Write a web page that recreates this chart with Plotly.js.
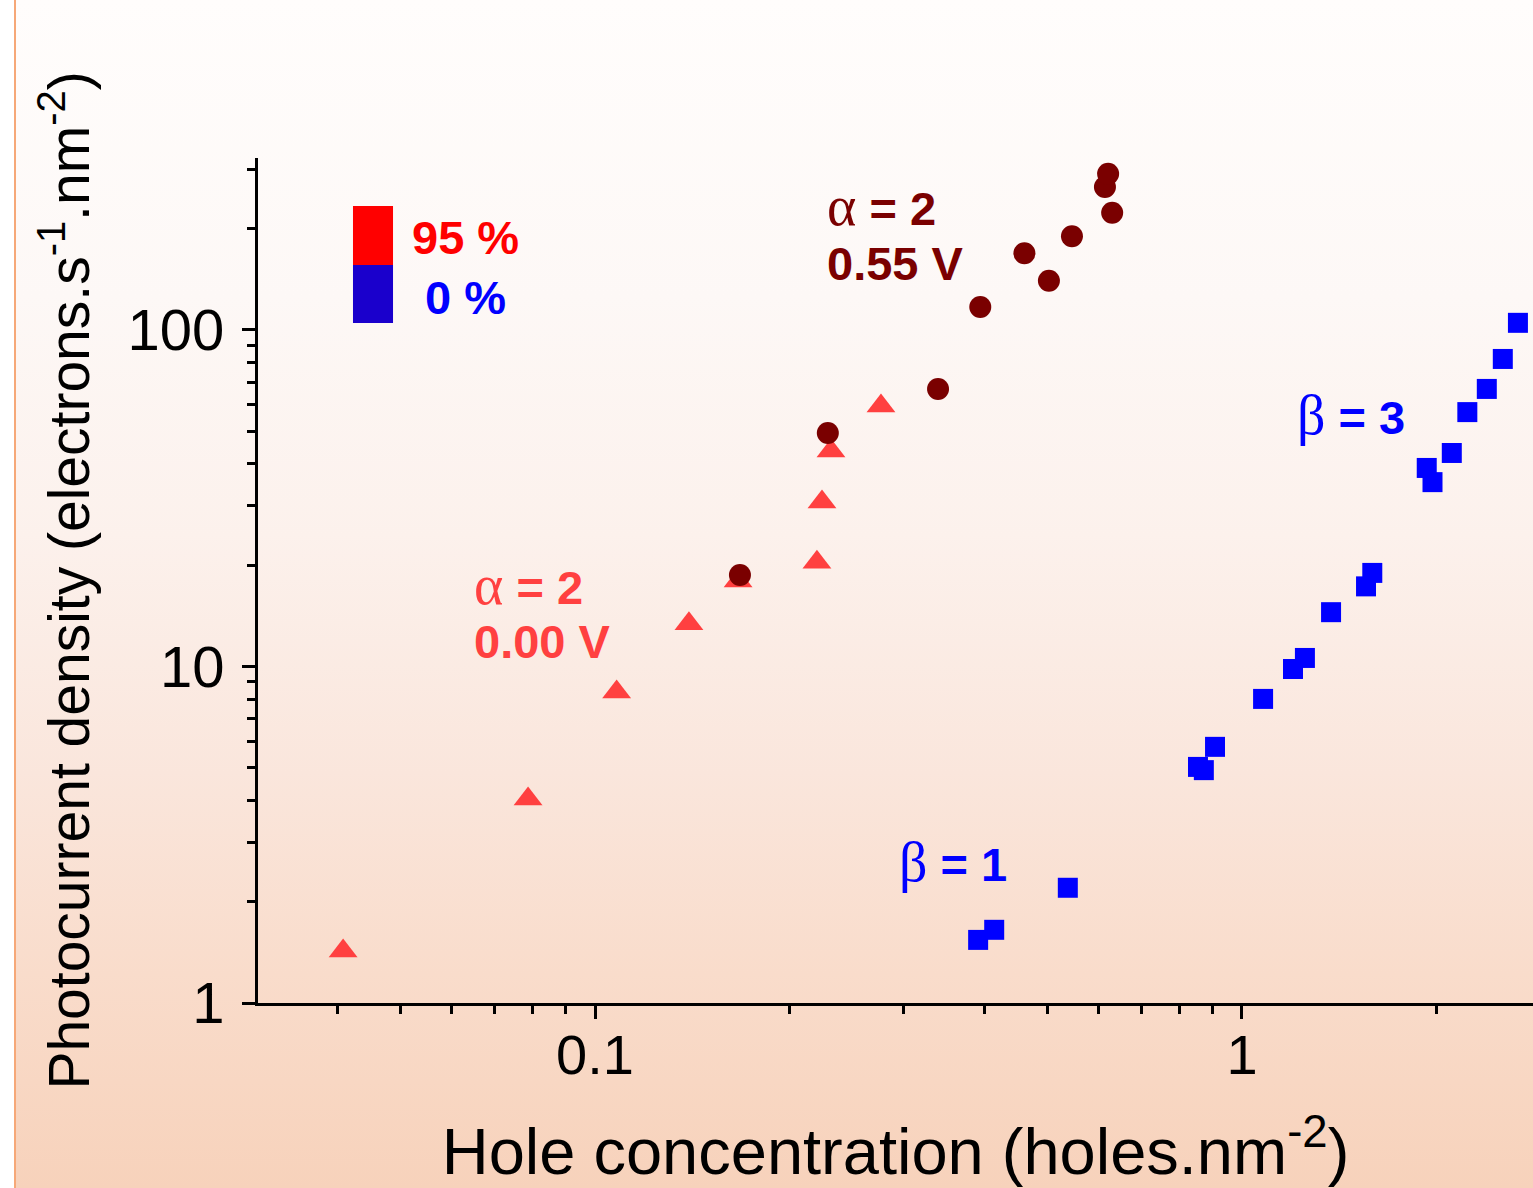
<!DOCTYPE html>
<html>
<head>
<meta charset="utf-8">
<script src="https://cdn.plot.ly/plotly-3.0.1.min.js"></script>
<style>
  html, body { margin:0; padding:0; background:#ffffff; }
  #bg { position:absolute; left:14px; top:0; width:1519px; height:1188px;
        border-left:2px solid #f6a878;
        background: linear-gradient(to bottom, #fffdfc 0%, #fdf8f6 25%, #fcf1ec 45%, #fae6dc 65%, #f9dccb 82%, #f7d2bb 100%); }
  #chart { position:absolute; left:0; top:0; width:1533px; height:1188px; }
</style>
</head>
<body>
<div id="bg"></div>
<div id="chart"></div>
<script>
// 95 %, 0.00 V (triangles)
const tri_x = [0.0408, 0.0788, 0.108, 0.1397, 0.1664, 0.2203, 0.2243, 0.2316, 0.2767];
const tri_y = [1.427, 4.04, 8.40, 13.4, 17.95, 20.4, 30.8, 43.7, 59.4];
// 95 %, 0.55 V (circles)
const circ_x = [0.1675, 0.229, 0.339, 0.394, 0.461, 0.503, 0.546, 0.614, 0.621, 0.630];
const circ_y = [18.7, 49.4, 66.8, 117, 169, 140, 190, 266, 291, 223];
// 0 % (squares)
const sq_x = [0.391, 0.414, 0.538, 0.855, 0.873, 0.9085, 1.078, 1.199, 1.251, 1.373, 1.555, 1.59, 1.93, 1.97, 2.11, 2.23, 2.39, 2.53, 2.67];
const sq_y = [1.54, 1.65, 2.20, 5.03, 4.92, 5.77, 8.01, 9.83, 10.6, 14.5, 17.3, 18.97, 38.9, 35.3, 43.1, 57.0, 66.8, 82.0, 105];

const xMajor = [0.1, 1];
const xMajorText = ['0.1', '1'];
const xMinor = [0.04, 0.05, 0.06, 0.07, 0.08, 0.09, 0.2, 0.3, 0.4, 0.5, 0.6, 0.7, 0.8, 0.9, 2];
const yMajor = [1, 10, 100];
const yMajorText = ['1', '10', '100'];
const yMinor = [2, 3, 4, 5, 6, 7, 8, 9, 20, 30, 40, 50, 60, 70, 80, 90, 200, 300];

const FONT = '"Liberation Sans", Arial, sans-serif';
const GREEK = 'font-family:\'Liberation Serif\',serif;font-weight:normal;font-size:56px';

const traces = [
  { x: tri_x, y: tri_y, mode: 'markers', type: 'scatter', name: '95 % 0.00 V',
    marker: { symbol: 'triangle-up', size: 25, color: '#ff4040' }, cliponaxis: false },
  { x: circ_x, y: circ_y, mode: 'markers', type: 'scatter', name: '95 % 0.55 V',
    marker: { symbol: 'circle', size: 22, color: '#7a0000' }, cliponaxis: false },
  { x: sq_x, y: sq_y, mode: 'markers', type: 'scatter', name: '0 %',
    marker: { symbol: 'square', size: 20, color: '#0000ff' }, cliponaxis: false }
];

function ann(text, x, y, color) {
  return { text: text, x: x, y: y, xref: 'paper', yref: 'paper', xanchor: 'left', yanchor: 'middle',
           showarrow: false, font: { family: FONT, size: 47, color: color, weight: 'bold' } };
}

const layout = {
  width: 1533, height: 1188,
  margin: { l: 258, r: 0, t: 158, b: 185 },
  paper_bgcolor: 'rgba(0,0,0,0)', plot_bgcolor: 'rgba(0,0,0,0)',
  showlegend: false,
  font: { family: FONT, color: '#000' },
  xaxis: {
    type: 'log', range: [-1.5209, 0.4498], showgrid: false, zeroline: false,
    showline: true, linecolor: '#000', linewidth: 3, mirror: false,
    tickmode: 'array', tickvals: xMajor, ticktext: xMajorText,
    ticks: 'outside', ticklen: 13, tickwidth: 3, tickcolor: '#000',
    tickfont: { size: 56, family: FONT, color: '#000' }, ticklabelstandoff: -12,
    minor: { tickmode: 'array', tickvals: xMinor, ticks: 'outside', ticklen: 8, tickwidth: 3, tickcolor: '#000', showgrid: false },
    title: { text: 'Hole concentration (holes.nm<sup>-2</sup>)', font: { size: 65, family: FONT, color: '#000' }, standoff: 62 }
  },
  yaxis: {
    type: 'log', range: [0, 2.511], showgrid: false, zeroline: false,
    showline: true, linecolor: '#000', linewidth: 3, mirror: false,
    tickmode: 'array', tickvals: yMajor, ticktext: yMajorText,
    ticks: 'outside', ticklen: 13, tickwidth: 3, tickcolor: '#000',
    tickfont: { size: 58, family: FONT, color: '#000' }, ticklabelstandoff: 6,
    minor: { tickmode: 'array', tickvals: yMinor, ticks: 'outside', ticklen: 8, tickwidth: 3, tickcolor: '#000', showgrid: false },
    title: { text: 'Photocurrent density (electrons.s<sup>-1</sup>.nm<sup>-2</sup>)', font: { size: 57, family: FONT, color: '#000' }, standoff: 20 }
  },
  shapes: [
    { type: 'rect', xref: 'paper', yref: 'paper', x0: 0.0745, x1: 0.1059, y0: 0.8734, y1: 0.9432, fillcolor: '#ff0000', line: { width: 0 } },
    { type: 'rect', xref: 'paper', yref: 'paper', x0: 0.0745, x1: 0.1059, y0: 0.8047, y1: 0.8734, fillcolor: '#1a00cc', line: { width: 0 } }
  ],
  annotations: [
    ann('95 %', 0.1192, 0.9065, '#ff0000'),
    ann('0 %', 0.1294, 0.8355, '#0000ff'),
    ann('<span style="' + GREEK + '">α</span> = 2', 0.4447, 0.9432, '#7a0000'),
    ann('0.55 V', 0.4447, 0.8746, '#7a0000'),
    ann('<span style="' + GREEK + '">α</span> = 2', 0.1678, 0.4946, '#ff4040'),
    ann('0.00 V', 0.1678, 0.4284, '#ff4040'),
    ann('<span style="' + GREEK + '">β</span> = 1', 0.5012, 0.1668, '#0000ff'),
    ann('<span style="' + GREEK + '">β</span> = 3', 0.8133, 0.6958, '#0000ff')
  ]
};

Plotly.newPlot('chart', traces, layout, { displayModeBar: false, staticPlot: true });
</script>
</body>
</html>
